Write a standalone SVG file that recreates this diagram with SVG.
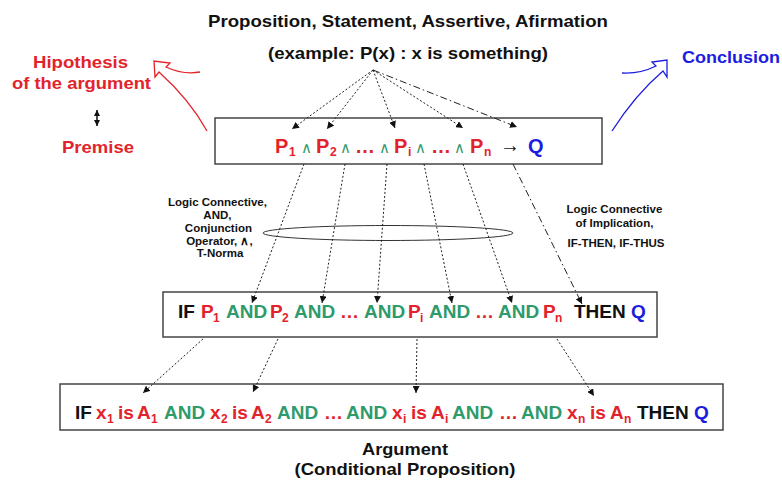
<svg xmlns="http://www.w3.org/2000/svg" width="782" height="481" viewBox="0 0 782 481">
<style>
.t{font-family:"Liberation Sans",Arial,sans-serif;font-weight:bold}
.r{fill:#e3232b}.g{fill:#2f9a6b}.b{fill:#1c1ce0}.k{fill:#111}
.s{font-size:12px}
.op{font-family:"DejaVu Sans","Liberation Sans",sans-serif;font-weight:300;font-size:15px}
.box{fill:#fff;stroke:#444;stroke-width:1.5}
.dot{fill:none;stroke:#222;stroke-width:1;stroke-dasharray:2 2;marker-end:url(#ah)}
.dd{fill:none;stroke:#222;stroke-width:1;stroke-dasharray:7 3 1.5 3;marker-end:url(#ah)}
</style>
<defs>
<marker id="ah" viewBox="0 0 10 10" refX="10" refY="5" markerWidth="7" markerHeight="7" markerUnits="userSpaceOnUse" orient="auto">
<path d="M0,0 L10,5 L0,10 z" fill="#111"/>
</marker>
<marker id="ah2" viewBox="0 0 10 10" refX="10" refY="5" markerWidth="6" markerHeight="6" markerUnits="userSpaceOnUse" orient="auto-start-reverse">
<path d="M0,0 L10,5 L0,10 z" fill="#111"/>
</marker>
</defs>
<rect width="782" height="481" fill="#fff"/>

<g id="title">
<text class="t k" x="208" y="27" font-size="17" textLength="400" lengthAdjust="spacingAndGlyphs">Proposition, Statement, Assertive, Afirmation</text>
<text class="t k" x="268" y="59" font-size="17" textLength="280" lengthAdjust="spacingAndGlyphs">(example: P(x) : x is something)</text>
</g>

<g id="hypothesis">
<text class="t r" x="33" y="68" font-size="17" textLength="95" lengthAdjust="spacingAndGlyphs">Hipothesis</text>
<text class="t r" x="12" y="89" font-size="17" textLength="139" lengthAdjust="spacingAndGlyphs">of the argument</text>
<line x1="97" y1="110" x2="97" y2="126" stroke="#111" stroke-width="1.5" marker-start="url(#ah2)" marker-end="url(#ah2)"/>
<text class="t r" x="62" y="153" font-size="17" textLength="72" lengthAdjust="spacingAndGlyphs">Premise</text>
<path d="M200,72 Q183,75 166,67 L170,63 L154,61 L155,77 L159,72 Q190,100 207,131" fill="none" stroke="#e3232b" stroke-width="1.3"/>
</g>

<g id="conclusion">
<text class="t b" x="682" y="63" font-size="17" textLength="98" lengthAdjust="spacingAndGlyphs">Conclusion</text>
<path d="M622,73 Q640,74 656,66 L652,62 L667,60 L667,77 L663,71 Q635,95 612,131" fill="none" stroke="#1c1ce0" stroke-width="1.3"/>
</g>

<g id="formula">
<rect class="box" x="215" y="118" width="387" height="46"/>
<text class="t" font-size="20" y="153">
<tspan class="r" x="275">P</tspan><tspan class="r s" x="289" y="156">1</tspan>
<tspan class="g op" x="301" y="153">∧</tspan>
<tspan class="r" x="316" y="153">P</tspan><tspan class="r s" x="330" y="156">2</tspan>
<tspan class="g op" x="340" y="153">∧</tspan>
<tspan class="r" x="355" y="153">…</tspan>
<tspan class="g op" x="379" y="153">∧</tspan>
<tspan class="r" x="394" y="153">P</tspan><tspan class="r s" x="408" y="156">i</tspan>
<tspan class="g op" x="415" y="153">∧</tspan>
<tspan class="r" x="431" y="153">…</tspan>
<tspan class="g op" x="454" y="153">∧</tspan>
<tspan class="r" x="470" y="153">P</tspan><tspan class="r s" x="484" y="156">n</tspan>
<tspan class="k" x="500" y="152" font-size="20" font-weight="normal">→</tspan>
<tspan class="b" x="528" y="153">Q</tspan>
</text>
</g>

<g id="and-label">
<ellipse cx="388" cy="233" rx="125" ry="7.5" fill="none" stroke="#333" stroke-width="1"/>
<text class="t k" font-size="11.5" text-anchor="middle">
<tspan x="219" y="206">Logic Connective,</tspan>
<tspan x="219" y="219">AND,</tspan>
<tspan x="220" y="232">Conjunction</tspan>
<tspan x="221" y="245">Operator, ∧,</tspan>
<tspan x="220" y="257">T-Norma</tspan>
</text>
</g>

<g id="impl-label">
<text class="t k" font-size="11.5" text-anchor="middle">
<tspan x="616" y="213">Logic Connective</tspan>
<tspan x="616" y="227">of Implication,</tspan>
<tspan x="616" y="247">IF-THEN, IF-THUS</tspan>
</text>
</g>

<g id="rule">
<rect class="box" x="163" y="292" width="494" height="45"/>
<text class="t" font-size="19" y="318">
<tspan class="k" x="178">IF</tspan>
<tspan class="r" x="201">P</tspan><tspan class="r s" x="213" y="322">1</tspan>
<tspan class="g" x="226" y="318">AND</tspan>
<tspan class="r" x="270">P</tspan><tspan class="r s" x="282" y="322">2</tspan>
<tspan class="g" x="294" y="318">AND</tspan>
<tspan class="r" x="340">…</tspan>
<tspan class="g" x="364">AND</tspan>
<tspan class="r" x="408">P</tspan><tspan class="r s" x="420" y="322">i</tspan>
<tspan class="g" x="429" y="318">AND</tspan>
<tspan class="r" x="475">…</tspan>
<tspan class="g" x="498">AND</tspan>
<tspan class="r" x="543">P</tspan><tspan class="r s" x="555" y="322">n</tspan>
<tspan class="k" x="574" y="318">THEN</tspan>
<tspan class="b" x="631">Q</tspan>
</text>
</g>

<g id="argument">
<rect class="box" x="60" y="384" width="663" height="46"/>
<text class="t" font-size="19" y="419">
<tspan class="k" x="75">IF</tspan>
<tspan class="r" x="96">x</tspan><tspan class="r s" x="107" y="423">1</tspan>
<tspan class="r" x="118" y="419">is</tspan>
<tspan class="r" x="137">A</tspan><tspan class="r s" x="151" y="423">1</tspan>
<tspan class="g" x="164" y="419">AND</tspan>
<tspan class="r" x="210">x</tspan><tspan class="r s" x="221" y="423">2</tspan>
<tspan class="r" x="232" y="419">is</tspan>
<tspan class="r" x="251">A</tspan><tspan class="r s" x="265" y="423">2</tspan>
<tspan class="g" x="277" y="419">AND</tspan>
<tspan class="r" x="324">…</tspan>
<tspan class="g" x="346">AND</tspan>
<tspan class="r" x="392">x</tspan><tspan class="r s" x="403" y="423">i</tspan>
<tspan class="r" x="411" y="419">is</tspan>
<tspan class="r" x="431">A</tspan><tspan class="r s" x="445" y="423">i</tspan>
<tspan class="g" x="452" y="419">AND</tspan>
<tspan class="r" x="499">…</tspan>
<tspan class="g" x="521">AND</tspan>
<tspan class="r" x="567">x</tspan><tspan class="r s" x="578" y="423">n</tspan>
<tspan class="r" x="590" y="419">is</tspan>
<tspan class="r" x="610">A</tspan><tspan class="r s" x="624" y="423">n</tspan>
<tspan class="k" x="637" y="419">THEN</tspan>
<tspan class="b" x="694">Q</tspan>
</text>
<text class="t k" font-size="17" text-anchor="middle" x="405" y="455" textLength="86" lengthAdjust="spacingAndGlyphs">Argument</text>
<text class="t k" font-size="17" text-anchor="middle" x="405" y="475" textLength="221" lengthAdjust="spacingAndGlyphs">(Conditional Proposition)</text>
</g>

<g id="connectors">
<line class="dot" x1="373" y1="70" x2="292" y2="129"/>
<line class="dot" x1="373" y1="70" x2="327" y2="129"/>
<line class="dot" x1="373" y1="70" x2="395" y2="128"/>
<line class="dot" x1="373" y1="70" x2="463" y2="128"/>
<line class="dd" x1="373" y1="70" x2="517" y2="127"/>
<line class="dot" x1="304" y1="164" x2="252" y2="303"/>
<line class="dot" x1="345" y1="164" x2="322" y2="303"/>
<line class="dot" x1="387" y1="164" x2="377" y2="303"/>
<line class="dot" x1="424" y1="164" x2="452" y2="303"/>
<line class="dot" x1="463" y1="164" x2="512" y2="303"/>
<line class="dd" x1="513" y1="164" x2="582" y2="304"/>
<line class="dot" x1="203" y1="339" x2="143" y2="393"/>
<line class="dot" x1="278" y1="339" x2="253" y2="392"/>
<line class="dot" x1="417" y1="339" x2="416" y2="393"/>
<line class="dot" x1="557" y1="339" x2="594" y2="396"/>
</g>
</svg>
